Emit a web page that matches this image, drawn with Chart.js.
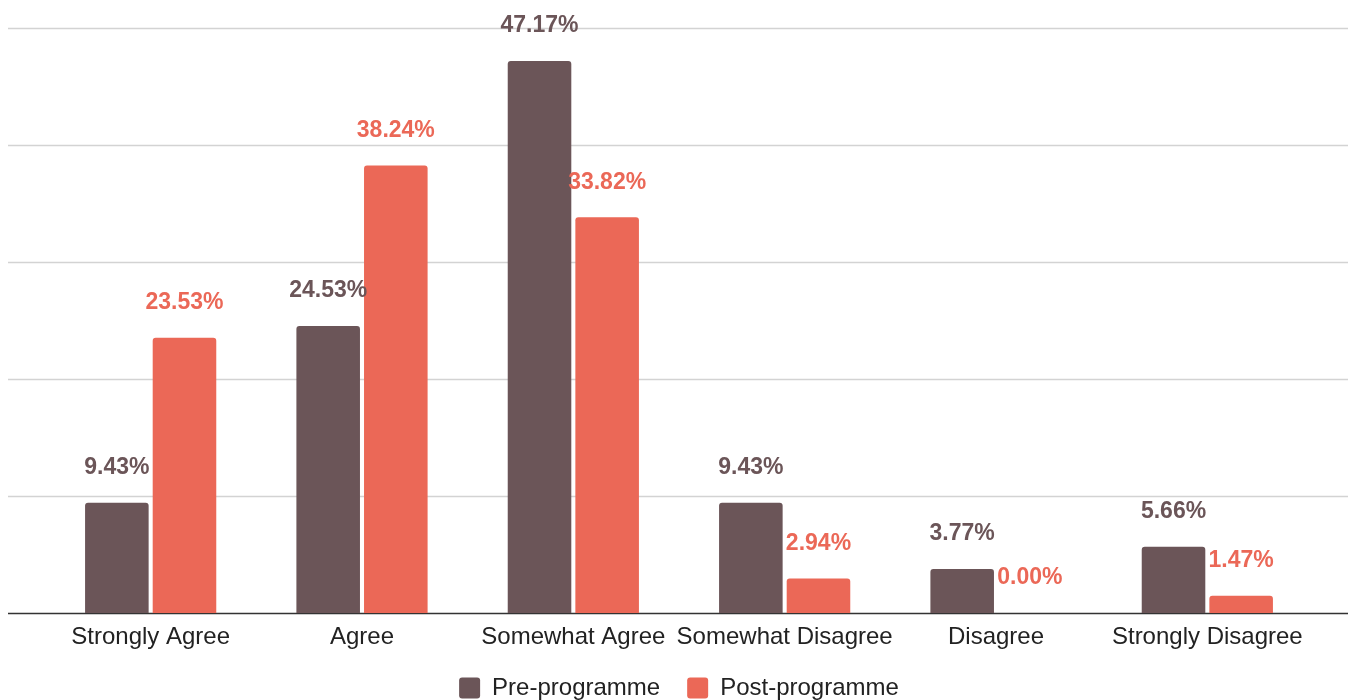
<!DOCTYPE html>
<html>
<head>
<meta charset="utf-8">
<script src="https://cdn.jsdelivr.net/npm/chart.js@4/dist/chart.umd.min.js"></script>
<style>
    html, body { margin: 0; padding: 0; background: #fff; overflow: hidden; }
    #wrap { width: 1353px; height: 710px; position: relative; }
</style>
</head>
<body>
<div id="wrap"><canvas id="myChart"></canvas></div>
<script>
const categories = ['Strongly Agree', 'Agree', 'Somewhat Agree', 'Somewhat Disagree', 'Disagree', 'Strongly Disagree'];
const preValues = [9.43, 24.53, 47.17, 9.43, 3.77, 5.66];
const postValues = [23.53, 38.24, 33.82, 2.94, 0.00, 1.47];
const seriesNames = ['Pre-programme', 'Post-programme'];
const yTicks = [0, 10, 20, 30, 40, 50];

const preColor = '#6b5558';
const postColor = '#eb6857';
const fontFamily = '"Liberation Sans", Arial, Helvetica, sans-serif';

// horizontal grid across the full width, like the original
const gridPlugin = {
    id: 'fullGrid',
    beforeDatasetsDraw(chart) {
        const ctx = chart.ctx;
        const y = chart.scales.y;
        ctx.save();
        yTicks.forEach(v => {
            const py = Math.round(y.getPixelForValue(v)) + 0.5;
            ctx.beginPath();
            ctx.lineWidth = 1.5;
            ctx.strokeStyle = v === 0 ? '#333333' : '#d3d3d3';
            ctx.moveTo(8, py);
            ctx.lineTo(chart.width - 5, py);
            ctx.stroke();
        });
        ctx.restore();
    }
};

// value labels above the bars
const valueLabels = {
    id: 'valueLabels',
    afterDatasetsDraw(chart) {
        const ctx = chart.ctx;
        ctx.save();
        ctx.font = 'bold 23px ' + fontFamily;
        ctx.textAlign = 'center';
        ctx.textBaseline = 'middle';
        chart.data.datasets.forEach((ds, i) => {
            const meta = chart.getDatasetMeta(i);
            ctx.fillStyle = ds.backgroundColor;
            meta.data.forEach((bar, j) => {
                ctx.fillText(ds.data[j].toFixed(2) + '%', bar.x, bar.y - 35);
            });
        });
        ctx.restore();
    }
};

function drawChart() {
    const ctx = document.getElementById('myChart');
    new Chart(ctx, {
        type: 'bar',
        data: {
            labels: categories,
            datasets: [
                {label: seriesNames[0], data: preValues, backgroundColor: preColor, borderRadius: 3,
                    categoryPercentage: 0.64, barPercentage: 0.94},
                {label: seriesNames[1], data: postValues, backgroundColor: postColor, borderRadius: 3,
                    categoryPercentage: 0.64, barPercentage: 0.94}
            ]
        },
        options: {
            responsive: true,
            maintainAspectRatio: false,
            animation: false,
            layout: {padding: {left: 45, right: 40, top: 28, bottom: 0}},
            plugins: {
                tooltip: {enabled: false},
                legend: {
                    position: 'bottom',
                    labels: {
                        boxWidth: 21,
                        boxHeight: 21,
                        useBorderRadius: true,
                        borderRadius: 3,
                        padding: 27,
                        color: '#222',
                        font: {family: fontFamily, size: 24}
                    }
                }
            },
            scales: {
                x: {
                    grid: {display: false, drawTicks: false},
                    border: {display: false},
                    ticks: {color: '#222', padding: 12, maxRotation: 0, autoSkip: false,
                        font: {family: fontFamily, size: 24, lineHeight: 1}},
                    afterFit: scale => { scale.height = 36; }
                },
                y: {
                    display: false,
                    min: 0,
                    max: 50,
                    ticks: {stepSize: 10}
                }
            }
        },
        plugins: [gridPlugin, valueLabels]
    });
}

window.addEventListener('load', evt => drawChart());
</script>
</body>
</html>
